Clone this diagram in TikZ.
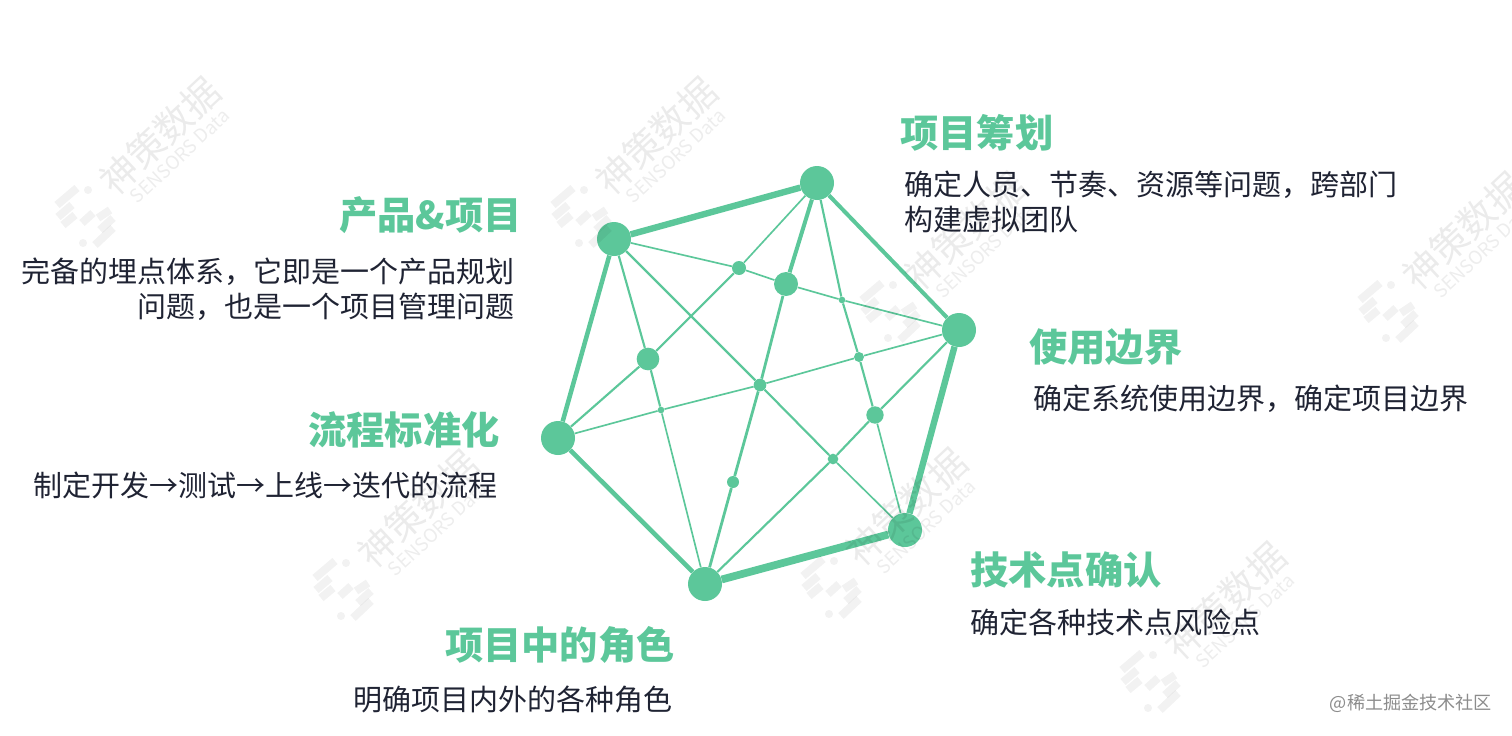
\documentclass[tikz,border=0pt]{standalone}
\usepackage{fontspec}
\setmainfont{Noto Sans CJK SC}
\usetikzlibrary{positioning}

\definecolor{mint}{HTML}{5CC79A}
\definecolor{ink}{HTML}{1F2333}

\tikzset{
    hub/.style={circle, fill=mint, inner sep=0, minimum size=25.5pt},
    dot/.style={circle, fill=mint, inner sep=0, minimum size=#1},
    heading/.style={text=mint, font=\fontsize{28.7}{34}\selectfont\bfseries, inner sep=0},
    blurb/.style={text=ink, font=\fontsize{21.75}{26}\selectfont, inner sep=0},
    fine/.style={draw=mint, line width=1.25pt},
    wire/.style={draw=mint, line width=1.6pt},
    spine/.style={draw=mint, line width=2.1pt},
    rim/.style={draw=mint, line width=3pt},
    band/.style={draw=mint, line width=4.8pt},
    wmark/.pic={
        \begin{scope}[black, opacity=.05, line width=6pt]
            \draw (-30,-12) -- (-10,-29);
            \draw (-29,0) -- (-15,-12);
            \draw (-24,8) -- (-12,-2);
            \draw (-5,6) -- (6,-4);
            \draw (11,1) -- (23,-7);
            \draw (13,13) -- (26,1);
            \draw (8,28) -- (26,11);
            \fill (1,-27) circle (3pt);
            \fill (-4,26) circle (3pt);
        \end{scope}
        \node[rotate=43, black, opacity=.08, inner sep=0, font=\fontsize{28}{28}\selectfont] at (73,-81) {神策数据};
        \node[rotate=43, black, opacity=.07, inner sep=0, font=\fontsize{14}{14}\selectfont] at (93,-61) {SENSORS Data};
    },
}

\begin{document}
\begin{tikzpicture}[x=.75pt, y=-.75pt]
    \useasboundingbox (0,0) rectangle (1512,735);

    \node[hub] (plan) at (817,183) {};
    \node[hub] (product) at (614,239) {};
    \node[hub] (usage) at (959,330) {};
    \node[hub] (flow) at (558,438) {};
    \node[hub] (tech) at (905,530) {};
    \node[hub] (role) at (705,584) {};

    \node[dot=10.5pt] (n1) at (739,268) {};
    \node[dot=18pt] (n2) at (786,284) {};
    \node[dot=5pt] (n3) at (842,300) {};
    \node[dot=17pt] (n4) at (648,359) {};
    \node[dot=7.5pt] (n5) at (859,357) {};
    \node[dot=9.5pt] (n6) at (760,385) {};
    \node[dot=5pt] (n7) at (661,410) {};
    \node[dot=13pt] (n8) at (875,415) {};
    \node[dot=8pt] (n9) at (833,459) {};
    \node[dot=9pt] (n10) at (733,482) {};

    \draw[band] (product) -- (plan);
    \draw[rim] (plan) -- (usage);
    \draw[band] (usage) -- (tech);
    \draw[band, line width=5.8pt] (tech) -- (role);
    \draw[rim, line width=3.4pt] (role) -- (flow);
    \draw[rim, line width=3.4pt] (flow) -- (product);

    \draw[fine] (product) -- (n1);
    \draw[fine] (n1) -- (n2);
    \draw[fine] (n2) -- (n3);
    \draw[fine] (n3) -- (usage);
    \draw[fine] (plan) -- (n1);
    \draw[wire] (n1) -- (n4);
    \draw[wire] (n4) -- (flow);
    \draw[rim] (plan) -- (n2);
    \draw[spine] (n2) -- (n6);
    \draw[spine] (n6) -- (n10);
    \draw[spine] (n10) -- (role);
    \draw[wire] (plan) -- (n3);
    \draw[wire] (n3) -- (n5);
    \draw[wire] (n5) -- (n8);
    \draw[fine] (n8) -- (tech);
    \draw[wire] (product) -- (n4);
    \draw[wire] (n4) -- (n7);
    \draw[fine] (n7) -- (role);
    \draw[wire] (product) -- (n6);
    \draw[wire] (n6) -- (n9);
    \draw[fine] (n9) -- (tech);
    \draw[fine] (usage) -- (n5);
    \draw[fine] (n5) -- (n6);
    \draw[fine] (n6) -- (n7);
    \draw[fine] (n7) -- (flow);
    \draw[wire] (usage) -- (n8);
    \draw[wire] (n8) -- (n9);
    \draw[wire] (n9) -- (role);

    \node[heading, anchor=west] (plantitle) at (900,133) {项目筹划};
    \node[blurb, align=left] (plantext) [below=14.5pt of plantitle.south west, anchor=north west, xshift=3pt] {确定人员、节奏、资源等问题，跨部门\\构建虚拟团队};
    \node[heading, anchor=east] (producttitle) at (522,215) {产品\&项目};
    \node[blurb, align=right] (producttext) [below=18pt of producttitle.south east, anchor=north east, xshift=-5.5pt] {完备的埋点体系，它即是一个产品规划\\问题，也是一个项目管理问题};
    \node[heading, anchor=west] (usagetitle) at (1029,347) {使用边界};
    \node[blurb] (usagetext) [below=14pt of usagetitle.south west, anchor=north west, xshift=3pt] {确定系统使用边界，确定项目边界};
    \node[heading, anchor=east] (flowtitle) at (500,430) {流程标准化};
    \node[blurb] (flowtext) [below=17pt of flowtitle.south east, anchor=north east, xshift=-2pt] {制定开发→测试→上线→迭代的流程};
    \node[heading, anchor=west] (techtitle) at (970,570) {技术点确认};
    \node[blurb] (techtext) [below=15pt of techtitle.south west, anchor=north west] {确定各种技术点风险点};
    \node[heading, anchor=east] (roletitle) at (675,645) {项目中的角色};
    \node[blurb] (roletext) [below=16pt of roletitle.south east, anchor=north east, xshift=-2pt] {明确项目内外的各种角色};

    \node[text=black!45, inner sep=0, font=\fontsize{13.6}{16}\selectfont] (credit) at (1411,703) {@稀土掘金技术社区};

    \pic at (87,217) {wmark};
    \pic at (583,217) {wmark};
    \pic at (892,312) {wmark};
    \pic at (1390,312) {wmark};
    \pic at (345,590) {wmark};
    \pic at (833,588) {wmark};
    \pic at (1152,682) {wmark};
\end{tikzpicture}
\end{document}
